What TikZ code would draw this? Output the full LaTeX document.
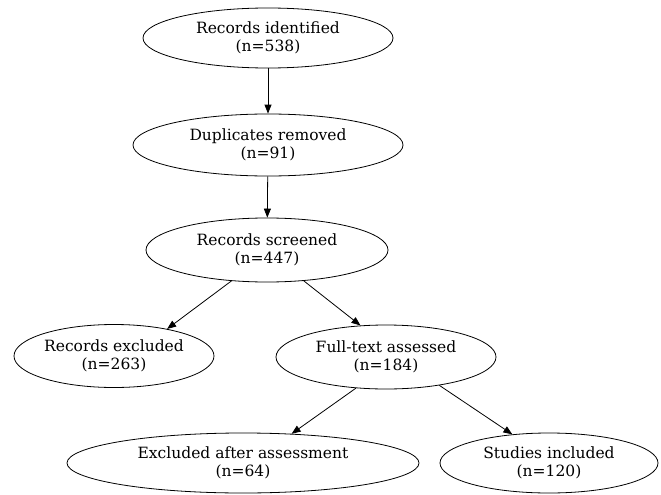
\documentclass[tikz,border=0pt]{standalone}
\usepackage{fontspec}
\setmainfont{DejaVu Serif}
\usetikzlibrary{shapes.geometric,arrows.meta}
\begin{document}
\begin{tikzpicture}[x=1pt,y=-1pt,
    box/.style={draw,ellipse,inner sep=0pt,line width=0.8pt,align=center,
        font=\fontsize{15.5}{17.5}\selectfont},
    flow/.style={-{Triangle[length=9pt,width=7pt]},line width=0.8pt}]
    \useasboundingbox (0,0) rectangle (661,495);
    \node[box,minimum width=250pt,minimum height=60pt] (ident) at (268,38) {Records identified\\(n=538)};
    \node[box,minimum width=270pt,minimum height=62pt] (dupl) at (268,145) {Duplicates removed\\(n=91)};
    \node[box,minimum width=242pt,minimum height=64pt] (screen) at (267,250) {Records screened\\(n=447)};
    \node[box,minimum width=200pt,minimum height=63pt] (excl) at (114,356) {Records excluded\\(n=263)};
    \node[box,minimum width=220pt,minimum height=64pt] (full) at (386,357) {Full-text assessed\\(n=184)};
    \node[box,minimum width=352pt,minimum height=60pt] (exclafter) at (243,463) {Excluded after assessment\\(n=64)};
    \node[box,minimum width=218pt,minimum height=60pt] (incl) at (549,463) {Studies included\\(n=120)};
    \draw[flow] (ident) -- (dupl);
    \draw[flow] (dupl) -- (screen);
    \draw[flow] (screen.221) -- (excl.27);
    \draw[flow] (screen.320) -- (full.129);
    \draw[flow] (full.226) -- (exclafter.31);
    \draw[flow] (full.332) -- (incl.142);
\end{tikzpicture}
\end{document}
